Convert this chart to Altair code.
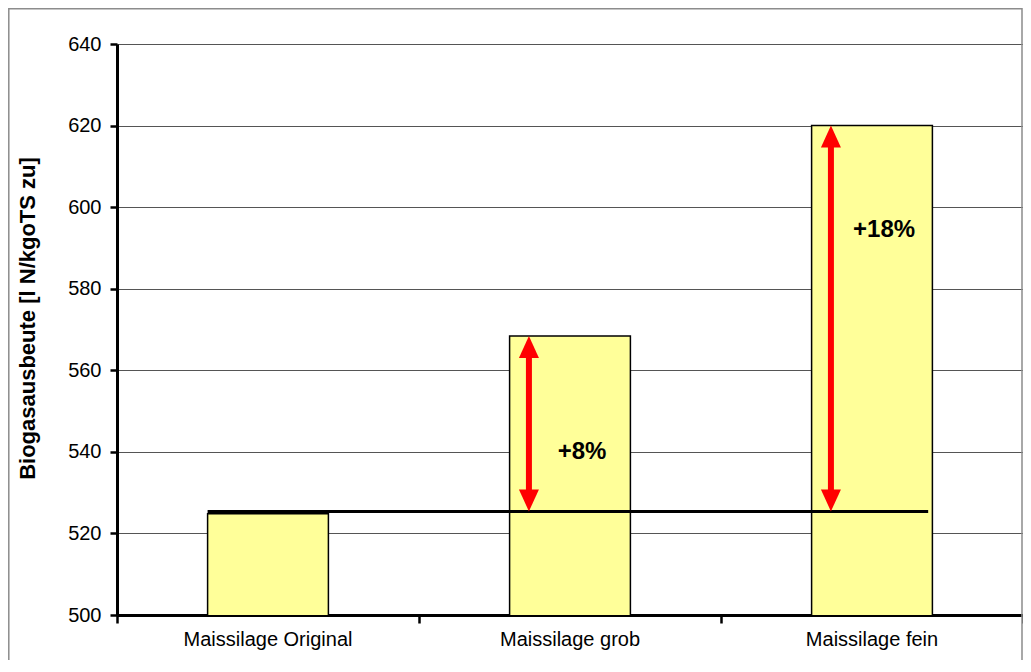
import altair as alt
import pandas as pd

# ---- data ----
categories = ["Maissilage Original", "Maissilage grob", "Maissilage fein"]
values = [524.8, 568.4, 620.0]
baseline = 525.4
arrow_categories = ["Maissilage grob", "Maissilage fein"]
arrow_tops = [568.4, 620.0]
pct_labels = ["+8%", "+18%"]
pct_label_y = [540.0, 594.5]
y_ticks = [500, 520, 540, 560, 580, 600, 620, 640]
boundary_ticks = [0, 1, 2, 3]

FONT = "Liberation Sans"

bars_df = pd.DataFrame({"cat": categories, "value": values})
arrows_df = pd.DataFrame({"cat": arrow_categories, "top": arrow_tops,
                          "base": [baseline] * len(arrow_categories)})
text_df = pd.DataFrame({"cat": arrow_categories, "label": pct_labels, "y": pct_label_y})
line_df = pd.DataFrame({"start": [categories[0]], "end": [categories[-1]], "y": [baseline]})
frame_df = pd.DataFrame({"k": [0]})
tick_df = pd.DataFrame({"pos": boundary_ticks, "v": [500] * len(boundary_ticks)})

xscale = alt.Scale(domain=categories, paddingInner=0.6, paddingOuter=0.3)
yscale = alt.Scale(domain=[500, 640], zero=False, nice=False)

xaxis = alt.Axis(title=None, labelFont=FONT, labelFontSize=20, labelColor="black",
                 labelPadding=14, ticks=False, domainColor="black", domainWidth=3,
                 grid=False, labelAngle=0, orient="bottom")
yaxis = alt.Axis(title="Biogasausbeute [l N/kgoTS zu]", titleFont=FONT, titleFontSize=22,
                 titleFontWeight="bold", titleColor="black", titlePadding=28,
                 titleY=274,
                 values=y_ticks, labelFont=FONT, labelFontSize=20, labelColor="black",
                 labelPadding=9, tickSize=7, tickWidth=2.5, tickColor="black",
                 domainColor="black", domainWidth=3, grid=True, gridColor="#555555",
                 gridWidth=1)

bars = alt.Chart(bars_df).mark_bar(
    fill="#FFFF99", stroke="black", strokeWidth=1.5, clip=True
).encode(
    x=alt.X("cat:N", scale=xscale, axis=xaxis, sort=categories),
    y=alt.Y("value:Q", scale=yscale, axis=yaxis),
)

ref_line = alt.Chart(line_df).mark_rule(color="black", strokeWidth=3).encode(
    x=alt.X("start:N", bandPosition=0),
    x2=alt.X2("end:N", bandPosition=0.965),
    y="y:Q",
)

shafts = alt.Chart(arrows_df).transform_calculate(
    t="datum.top - 3", b="datum.base + 3"
).mark_rule(color="red", strokeWidth=6).encode(
    x=alt.X("cat:N", bandPosition=0.16),
    y="b:Q",
    y2="t:Q",
)

head_up = alt.Chart(arrows_df).mark_point(
    shape="M0,0L1,2.2L-1,2.2Z", size=400, filled=True, color="red", opacity=1
).encode(x=alt.X("cat:N", bandPosition=0.16), y="top:Q")

head_down = alt.Chart(arrows_df).mark_point(
    shape="M0,0L1,-2.2L-1,-2.2Z", size=400, filled=True, color="red", opacity=1
).encode(x=alt.X("cat:N", bandPosition=0.16), y="base:Q")

texts = alt.Chart(text_df).mark_text(
    font=FONT, fontSize=24, fontWeight="bold", color="black"
).encode(x=alt.X("cat:N", bandPosition=0.6), y="y:Q", text="label:N")

frame = alt.Chart(frame_df).mark_rect(
    fill="transparent", stroke="#8c8c8c", strokeWidth=1.5
).encode(
    x=alt.value(-108.2), x2=alt.value(905), y=alt.value(-35.2), y2=alt.value(700)
)

band_layers = alt.layer(bars, ref_line, shafts, head_up, head_down, texts)

# category-boundary ticks on the x axis (as in the original spreadsheet chart)
boundary = alt.Chart(tick_df).mark_point(opacity=0).encode(
    x=alt.X("pos:Q", scale=alt.Scale(domain=[0, 3], nice=False, zero=True),
            axis=alt.Axis(title=None, orient="bottom", values=boundary_ticks,
                          labels=False, domain=False, grid=False, ticks=True,
                          tickSize=8, tickWidth=2.5, tickColor="black")),
    y=alt.Y("v:Q"),
)

chart = alt.layer(band_layers, boundary, frame).resolve_scale(x="independent").properties(
    width=906, height=571,
    padding={"left": 109, "top": 36, "right": 0, "bottom": 45},
    autosize=alt.AutoSizeParams(type="none"),
).configure_view(stroke=None).configure(background="white")

chart.save("out.html", embed_options={"renderer": "svg", "actions": False})
